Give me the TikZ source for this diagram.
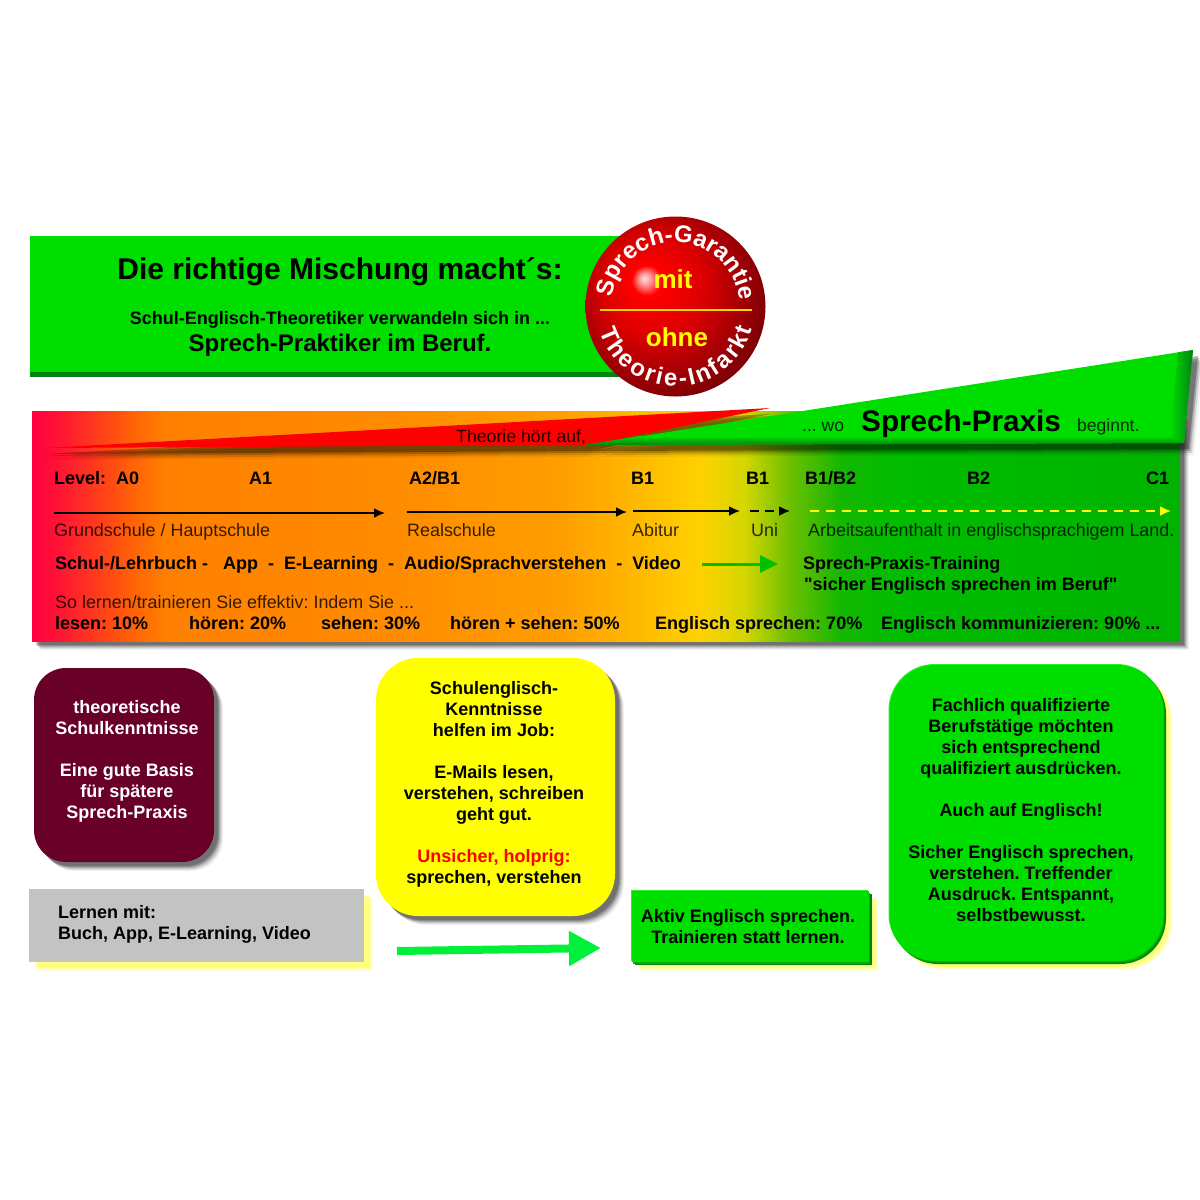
\documentclass[tikz,border=0pt]{standalone}
\usepackage{fontspec}
\setmainfont{Liberation Sans}[Ligatures=TeXOff]
\usetikzlibrary{shadows,arrows.meta,decorations.text}
\definecolor{mgreen}{RGB}{0,222,0}
\definecolor{dgreen}{RGB}{0,130,20}
\definecolor{hgreen}{RGB}{0,175,0}
\definecolor{lgreen}{RGB}{40,240,40}
\definecolor{maroon}{RGB}{105,0,40}
\definecolor{ogray}{RGB}{195,195,195}
\definecolor{aqua}{RGB}{0,240,60}
\definecolor{myellow}{RGB}{255,255,0}
\definecolor{myred}{RGB}{255,0,0}
\definecolor{linegold}{RGB}{255,215,0}
\pgfdeclarehorizontalshading{bandshade}{100bp}{rgb(0bp)=(1,0,.25); rgb(25bp)=(1,0,.25); rgb(26.2bp)=(1,.08,.2); rgb(28bp)=(1,.25,.1); rgb(29.3bp)=(1,.38,.03); rgb(30.8bp)=(1,.5,0); rgb(41bp)=(1,.55,0); rgb(48bp)=(1,.62,0); rgb(50.6bp)=(1,.70,0); rgb(54.1bp)=(1,.82,0); rgb(56bp)=(.84,.84,0); rgb(58bp)=(.43,.75,0); rgb(60.2bp)=(.08,.72,0); rgb(62.8bp)=(0,.74,0); rgb(75bp)=(0,.70,0); rgb(100bp)=(0,.70,0)}
\pgfdeclareradialshading{ballshade}{\pgfpoint{-8.75bp}{7.9bp}}{rgb(0bp)=(1,.88,.88); rgb(1.6bp)=(1,.6,.6); rgb(4.2bp)=(1,0,0); rgb(14bp)=(.86,0,0); rgb(24bp)=(.62,0,.02); rgb(36bp)=(.33,0,.02); rgb(50bp)=(.33,0,.02)}
\tikzset{
  lab/.style={anchor=base west,inner sep=0pt,font=\fontsize{17.9}{21}\selectfont,text opacity=.8},
  boldlab/.style={anchor=base west,inner sep=0pt,font=\fontsize{18}{21}\selectfont\bfseries},
  boxtext/.style={anchor=north,inner sep=0pt,align=center,font=\fontsize{18}{21}\selectfont\bfseries},
  grayshadow/.style={
    drop shadow={shadow xshift=9pt,shadow yshift=-9pt,fill=black,opacity=.05},
    drop shadow={shadow xshift=8pt,shadow yshift=-8pt,fill=black,opacity=.08},
    drop shadow={shadow xshift=7pt,shadow yshift=-7pt,fill=black,opacity=.1},
    drop shadow={shadow xshift=6pt,shadow yshift=-6pt,fill=black,opacity=.14},
    drop shadow={shadow xshift=5pt,shadow yshift=-5pt,fill=black,opacity=.18},
    drop shadow={shadow xshift=4pt,shadow yshift=-4pt,fill=black,opacity=.2}},
  yellowglow/.style={
    drop shadow={shadow xshift=9pt,shadow yshift=-9pt,fill=myellow,opacity=.12},
    drop shadow={shadow xshift=7.5pt,shadow yshift=-7.5pt,fill=myellow,opacity=.2},
    drop shadow={shadow xshift=6pt,shadow yshift=-6pt,fill=myellow,opacity=.3}},
  bevel/.style={
    drop shadow={shadow xshift=2.5pt,shadow yshift=-3pt,fill=dgreen,opacity=1},
    drop shadow={shadow xshift=1.2pt,shadow yshift=-1.5pt,fill=hgreen,opacity=1},
    drop shadow={shadow xshift=-1pt,shadow yshift=1pt,fill=lgreen,opacity=1}},
  wedgeshadow/.style={
    drop shadow={shadow xshift=#1*2,shadow yshift=-12pt,fill=black,opacity=.06},
    drop shadow={shadow xshift=#1*1.6,shadow yshift=-10pt,fill=black,opacity=.12},
    drop shadow={shadow xshift=#1*1.3,shadow yshift=-8pt,fill=black,opacity=.2},
    drop shadow={shadow xshift=#1,shadow yshift=-6pt,fill=black,opacity=.3}},
  box/.style={inner sep=0pt,outer sep=0pt,rectangle},
  thinarrow/.style={-{Latex[length=11pt,width=10pt]},line width=1.8pt},
}
\begin{document}
\frenchspacing
\begin{tikzpicture}[x=1pt,y=-1pt]
  \useasboundingbox (0,0) rectangle (1200,1200);
  % top banner
  \node[box,minimum width=620pt,minimum height=136pt,fill=mgreen,
    drop shadow={shadow xshift=0pt,shadow yshift=-5pt,fill=dgreen,opacity=1}] (banner) at (340,304) {};
  \node[anchor=base,inner sep=0pt,font=\fontsize{30}{30}\selectfont\bfseries] (title) at (340,279) {Die richtige Mischung macht´s:};
  \node[anchor=base,inner sep=0pt,font=\fontsize{18}{21}\selectfont\bfseries] (subone) at (340,324) {Schul-Englisch-Theoretiker verwandeln sich in ...};
  \node[anchor=base,inner sep=0pt,font=\fontsize{24}{24}\selectfont\bfseries] (subtwo) at (340,351) {Sprech-Praktiker im Beruf.};
  % colour band
  \node[box,minimum width=1148pt,minimum height=230pt,shade,shading=bandshade,grayshadow] (band) at (606,526) {};
  \fill[myred,wedgeshadow=0pt] (45,448) -- (770,408) -- (590,445) -- cycle;
  \fill[mgreen,wedgeshadow=5pt] (585,445) -- (1193,350) -- (1184,443) -- cycle;
  \shade[top color=mgreen,bottom color=dgreen] (585,445) -- (1184,443) -- (1178,436) -- (640,436) -- cycle;
  \shade[left color=mgreen,right color=dgreen] (1193,350) -- (1184,443) -- (1170,436) -- (1178,352.3) -- cycle;
  \node[lab,font=\fontsize{17.7}{21}\selectfont,text opacity=.85] (theorie) at (456,442) {Theorie hört auf,};
  \node[lab,font=\fontsize{17.5}{21}\selectfont] (wo) at (802,431) {... wo};
  \node[anchor=base west,inner sep=0pt,font=\fontsize{29.7}{30}\selectfont\bfseries] (praxis) at (861,431) {Sprech-Praxis};
  \node[lab,font=\fontsize{17.5}{21}\selectfont] (beginnt) at (1077,431) {beginnt.};
  % levels
  \node[boldlab] (lvlzero) at (54,484) {Level:\ \ A0};
  \node[boldlab] (lvlone) at (249,484) {A1};
  \node[boldlab] (lvltwo) at (409,484) {A2/B1};
  \node[boldlab] (lvlthree) at (631,484) {B1};
  \node[boldlab] (lvlfour) at (746,484) {B1};
  \node[boldlab] (lvlfive) at (805,484) {B1/B2};
  \node[boldlab] (lvlsix) at (967,484) {B2};
  \node[boldlab] (lvlseven) at (1146,484) {C1};
  % school arrows
  \coordinate (gsa) at (54,513);
  \coordinate (gsb) at (385,513);
  \coordinate (rsa) at (407,512);
  \coordinate (rsb) at (627,512);
  \coordinate (aba) at (633,511);
  \coordinate (abb) at (740,511);
  \coordinate (uma) at (750,511);
  \coordinate (umb) at (790,511);
  \coordinate (aua) at (810,511);
  \coordinate (aub) at (1171,511);
  \draw[thinarrow] (gsa) -- (gsb);
  \draw[thinarrow] (rsa) -- (rsb);
  \draw[thinarrow] (aba) -- (abb);
  \draw[thinarrow,dash pattern=on 9pt off 6pt] (uma) -- (umb);
  \draw[thinarrow,myellow,dash pattern=on 9pt off 7pt] (aua) -- (aub);
  \node[lab] (grund) at (54,536) {Grundschule / Hauptschule};
  \node[lab] (real) at (407,536) {Realschule};
  \node[lab] (abi) at (632,536) {Abitur};
  \node[lab] (uni) at (751,536) {Uni};
  \node[lab] (arbeit) at (808,536) {Arbeitsaufenthalt in englischsprachigem Land.};
  % media row
  \node[boldlab] (media) at (55,569) {Schul-/Lehrbuch -\ \ \ App\ \ -\ \ E-Learning\ \ -\ \ Audio/Sprachverstehen\ \ -\ \ Video};
  \coordinate (tra) at (702,564);
  \coordinate (trb) at (778,564);
  \draw[-{Triangle[length=18pt,width=17pt]},line width=3pt,green!75!black] (tra) -- (trb);
  \node[boldlab] (training) at (803,569) {Sprech-Praxis-Training};
  \node[boldlab] (sicher) at (804,590) {"sicher Englisch sprechen im Beruf"};
  % percent row
  \node[lab] (solernen) at (55,608) {So lernen/trainieren Sie effektiv: Indem Sie ...};
  \node[boldlab] (plesen) at (55,629) {lesen: 10\%};
  \node[boldlab] (phoeren) at (189,629) {hören: 20\%};
  \node[boldlab] (psehen) at (321,629) {sehen: 30\%};
  \node[boldlab] (pboth) at (450,629) {hören + sehen: 50\%};
  \node[boldlab] (pspeak) at (655,629) {Englisch sprechen: 70\%};
  \node[boldlab] (pkomm) at (881,629) {Englisch kommunizieren: 90\% ...};
  % stamp
  \node[circle,minimum size=180pt,inner sep=0pt,shade,shading=ballshade] (ball) at (675.5,306.5) {};
  \coordinate (lna) at (600,310);
  \coordinate (lnb) at (752,310);
  \draw[line width=2.5pt,linegold] (lna) -- (lnb);
  \node[anchor=base,inner sep=0pt,text=myellow,font=\fontsize{26}{26}\selectfont\bfseries] (mit) at (673,288) {mit};
  \node[anchor=base,inner sep=0pt,text=myellow,font=\fontsize{26}{26}\selectfont\bfseries] (ohne) at (677,346) {ohne};
  \path[decorate,decoration={text along path,text align=fit to path,
    text={|\fontsize{24}{24}\selectfont\bfseries\color{white}|Sprech-Garantie}}]
    (ball.center) ++(172:64pt) arc[start angle=172,end angle=8,radius=64pt];
  \path[decorate,decoration={text along path,text align=fit to path,
    text={|\fontsize{24}{24}\selectfont\bfseries\color{white}|Theorie-Infarkt}}]
    (ball.center) ++(198:80pt) arc[start angle=198,end angle=344,radius=80pt];
  % lower boxes
  \node[box,minimum width=180pt,minimum height=194pt,rounded corners=32pt,fill=maroon,grayshadow] (schul) at (124,765) {};
  \node[boxtext,text=white] (schultxt) at (127,700) {theoretische\\Schulkenntnisse\\[21pt]Eine gute Basis\\für spätere\\Sprech-Praxis};
  \node[box,minimum width=239pt,minimum height=258pt,rounded corners=42pt,fill=myellow,grayshadow] (job) at (495.5,787) {};
  \node[boxtext] (jobtxt) at (494,681) {Schulenglisch-\\Kenntnisse\\helfen im Job:\\[21pt]E-Mails lesen,\\verstehen, schreiben\\geht gut.\\[21pt]\textcolor{myred}{Unsicher, holprig:}\\sprechen, verstehen};
  \node[box,minimum width=335pt,minimum height=73pt,fill=ogray,yellowglow] (lernen) at (196.5,925.5) {};
  \node[boxtext,align=left,anchor=north west] (lernentxt) at (58,905) {Lernen mit:\\Buch, App, E-Learning, Video};
  \coordinate (bga) at (397,951);
  \coordinate (bgb) at (601,948);
  \draw[-{Triangle[length=32pt,width=33pt]},line width=8pt,aqua] (bga) -- (bgb);
  \node[box,minimum width=237pt,minimum height=71pt,fill=mgreen,yellowglow,bevel] (aktiv) at (750.5,926.5) {};
  \node[boxtext] (aktivtxt) at (748,909) {Aktiv Englisch sprechen.\\Trainieren statt lernen.};
  \node[box,minimum width=274pt,minimum height=296pt,rounded corners=46pt,fill=mgreen,yellowglow,bevel] (quali) at (1026.5,813) {};
  \node[boxtext] (qualitxt) at (1021,698) {Fachlich qualifizierte\\Berufstätige möchten\\sich entsprechend\\qualifiziert ausdrücken.\\[21pt]Auch auf Englisch!\\[21pt]Sicher Englisch sprechen,\\verstehen. Treffender\\Ausdruck. Entspannt,\\selbstbewusst.};
\end{tikzpicture}
\end{document}
